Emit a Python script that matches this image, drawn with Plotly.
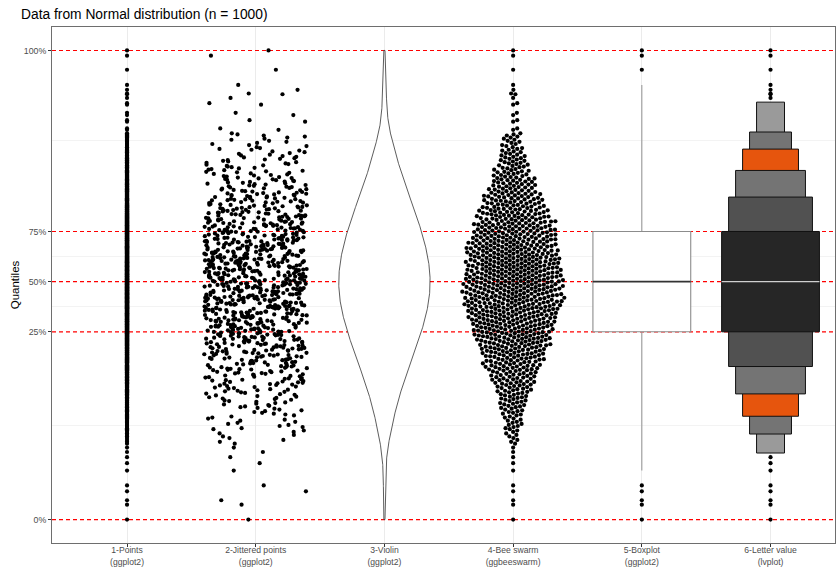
import numpy as np
import plotly.graph_objects as go

# ---- data -------------------------------------------------------------
categories = [
    "1-Points<br>(ggplot2)",
    "2-Jittered points<br>(ggplot2)",
    "3-Violin<br>(ggplot2)",
    "4-Bee swarm<br>(ggbeeswarm)",
    "5-Boxplot<br>(ggplot2)",
    "6-Letter value<br>(lvplot)",
]

# sample summarised as counts in 0.1-wide bins from -2.2 to 2.0
bin_start = -2.2
bin_width = 0.1
bin_counts = [4, 5, 7, 7, 9, 11, 12, 14, 17, 18, 22, 23, 26, 28, 31, 32, 34, 36, 38, 39, 39, 40,
              40, 39, 39, 37, 36, 34, 32, 31, 28, 26, 23, 22, 18, 17, 14, 12, 11, 9, 7, 7]
# individual values in the two tails
lower_tail = [-3.21, -3.01, -2.95, -2.83, -2.75, -2.55, -2.45, -2.37, -2.30, -2.24]
upper_tail = [2.04, 2.06, 2.15, 2.17, 2.24, 2.27, 2.38, 2.40, 2.47, 2.52, 2.53, 2.58,
              2.645, 2.85, 3.04, 3.11]

quantile_probs = [0.0, 0.25, 0.5, 0.75, 1.0]
quantile_labels = ["0%", "25%", "50%", "75%", "100%"]

# letter-value levels (tail probability of each level)
lv_probs = [1 / 4, 1 / 8, 1 / 16, 1 / 32, 1 / 64, 1 / 128]
lv_colors = ["#262626", "#515151", "#747474", "#E6550D", "#747474", "#9a9a9a"]

# ---- build the sample ---------------------------------------------------
body = []
for i, c in enumerate(bin_counts):
    lo = bin_start + i * bin_width
    body += [lo + (k + 0.5) * bin_width / c for k in range(c)]
values = np.sort(np.array(lower_tail + body + upper_tail))
n = len(values)

qs = np.quantile(values, quantile_probs)
vmin, q1, med, q3, vmax = qs
span = vmax - vmin
y_range = [vmin - 0.05 * span, vmax + 0.05 * span]
x_range = [0.417, 6.501]

# ---- geometry of the panel ----------------------------------------------
W, H = 836, 567
M = dict(l=52, r=1, t=27, b=24)
plot_w = W - M["l"] - M["r"]
plot_h = H - M["t"] - M["b"]
px_x = plot_w / (x_range[1] - x_range[0])
px_y = plot_h / (y_range[1] - y_range[0])

PT = 4.2  # point diameter in px


def hash01(i):
    """Deterministic scatter of an index onto [0, 1) (splitmix64 finaliser)."""
    m = (1 << 64) - 1
    z = (i * 0x9E3779B97F4A7C15 + 0x632BE59BD9B4E019) & m
    z = ((z ^ (z >> 30)) * 0xBF58476D1CE4E5B9) & m
    z = ((z ^ (z >> 27)) * 0x94D049BB133111EB) & m
    z ^= z >> 31
    return z / float(1 << 64)


fig = go.Figure()

# dashed reference lines at the quantiles (drawn first so every mark sits on top)
hx, hy = [], []
for yv in qs:
    hx += [x_range[0], x_range[1], None]
    hy += [yv, yv, None]
fig.add_trace(go.Scatter(x=hx, y=hy, mode="lines", hoverinfo="skip",
                         line=dict(color="#ff0000", width=1.15, dash="4px,3px")))

# 1 - points
fig.add_trace(go.Scatter(x=np.full(n, 1.0), y=values, mode="markers",
                         marker=dict(color="black", size=PT, line=dict(width=0)),
                         hoverinfo="skip"))

# 2 - jittered points (horizontal jitter of +-0.4)
u = np.array([hash01(i) for i in range(n)])
fig.add_trace(go.Scatter(x=2 + (u * 2 - 1) * 0.4, y=values, mode="markers",
                         marker=dict(color="black", size=PT, line=dict(width=0)),
                         hoverinfo="skip"))

# 3 - violin (gaussian KDE, nrd0 bandwidth, trimmed to data range)
sd = values.std(ddof=1)
bw = 0.9 * min(sd, (q3 - q1) / 1.34) * n ** -0.2
grid = np.linspace(vmin, vmax, 512)
dens = np.exp(-0.5 * ((grid[:, None] - values[None, :]) / bw) ** 2).sum(1) / (n * bw * np.sqrt(2 * np.pi))
half = dens / dens.max() * 0.355
vx = np.concatenate([3 + half, (3 - half)[::-1], [3 + half[0]]])
vy = np.concatenate([grid, grid[::-1], [grid[0]]])
fig.add_trace(go.Scatter(x=vx, y=vy, mode="lines", fill="toself", fillcolor="white",
                         line=dict(color="#333333", width=0.8), hoverinfo="skip"))


# 4 - bee swarm (points placed in ascending order, nearest free slot to centre)
def swarm(y_pix, d):
    xs = np.zeros(len(y_pix))
    py, pxs = [], []
    for i in np.argsort(y_pix, kind="stable"):
        y = y_pix[i]
        x = 0.0
        if py:
            ay = np.array(py[-80:])
            ax = np.array(pxs[-80:])
            dy = y - ay
            near = np.abs(dy) < d
            if near.any():
                ny, nx = dy[near], ax[near]
                h = np.sqrt(d * d - ny * ny)
                cand = np.concatenate([[0.0], nx + h, nx - h])
                ok = ((cand[:, None] - nx[None, :]) ** 2 + ny[None, :] ** 2) >= d * d - 1e-6
                valid = cand[ok.all(axis=1)]
                x = valid[np.argmin(np.abs(valid))]
        xs[i] = x
        py.append(y)
        pxs.append(x)
    return xs


sw = swarm(values * px_y, 4.35)
fig.add_trace(go.Scatter(x=4 + sw / px_x, y=values, mode="markers",
                         marker=dict(color="black", size=PT, line=dict(width=0)),
                         hoverinfo="skip"))

# 5 - box plot (Tukey whiskers at 1.5 IQR)
iqr = q3 - q1
lo_f, hi_f = q1 - 1.5 * iqr, q3 + 1.5 * iqr
w_lo = values[values >= lo_f].min()
w_hi = values[values <= hi_f].max()
out = values[(values < lo_f) | (values > hi_f)]
bh = 0.38
fig.add_trace(go.Scatter(x=[5, 5, None, 5, 5], y=[q3, w_hi, None, q1, w_lo], mode="lines",
                         line=dict(color="#9a9a9a", width=1.1), hoverinfo="skip"))
fig.add_trace(go.Scatter(x=[5 - bh, 5 + bh, 5 + bh, 5 - bh, 5 - bh], y=[q1, q1, q3, q3, q1],
                         mode="lines", fill="toself", fillcolor="white",
                         line=dict(color="#8c8c8c", width=1.1), hoverinfo="skip"))
fig.add_trace(go.Scatter(x=[5 - bh, 5 + bh], y=[med, med], mode="lines",
                         line=dict(color="#333333", width=1.6), hoverinfo="skip"))
fig.add_trace(go.Scatter(x=np.full(len(out), 5.0), y=out, mode="markers",
                         marker=dict(color="black", size=PT, line=dict(width=0)),
                         hoverinfo="skip"))

# 6 - letter-value plot
K = len(lv_probs)
for k in range(K - 1, -1, -1):
    p = lv_probs[k]
    lo, hi = np.quantile(values, [p, 1 - p])
    hw = bh * (1 - k / (K + 1))
    fig.add_trace(go.Scatter(x=[6 - hw, 6 + hw, 6 + hw, 6 - hw, 6 - hw], y=[lo, lo, hi, hi, lo],
                             mode="lines", fill="toself", fillcolor=lv_colors[k],
                             line=dict(color="#111111", width=1), hoverinfo="skip"))
fig.add_trace(go.Scatter(x=[6 - bh, 6 + bh], y=[med, med], mode="lines",
                         line=dict(color="#cfcfcf", width=1.2), hoverinfo="skip"))
lv_lo, lv_hi = np.quantile(values, [lv_probs[-1], 1 - lv_probs[-1]])
lv_out = values[(values < lv_lo) | (values > lv_hi)]
fig.add_trace(go.Scatter(x=np.full(len(lv_out), 6.0), y=lv_out, mode="markers",
                         marker=dict(color="black", size=PT, line=dict(width=0)),
                         hoverinfo="skip"))

minor_vals = list((qs[:-1] + qs[1:]) / 2)
font_family = "Liberation Sans, Arial, Helvetica, sans-serif"

fig.update_layout(
    width=W, height=H, margin=M,
    paper_bgcolor="white", plot_bgcolor="white",
    showlegend=False,
    font=dict(family=font_family, color="black"),
    title=dict(text="Data from Normal distribution (n = 1000)", x=21 / W, xref="container",
               xanchor="left", y=1 - 14 / H, yref="container", yanchor="middle",
               font=dict(size=13.8, color="black", family=font_family)),
)
fig.update_xaxes(
    range=x_range, tickmode="array", tickvals=list(range(1, 7)), ticktext=categories,
    showgrid=True, gridcolor="#ebebeb", gridwidth=1, zeroline=False, automargin=False,
    ticks="outside", ticklen=3, tickcolor="#333333", tickwidth=1, ticklabelstandoff=-4,
    tickfont=dict(size=8.6, color="#4d4d4d"),
    showline=True, mirror=True, linecolor="#6e6e6e", linewidth=1,
)
fig.update_yaxes(
    range=y_range, tickmode="array", tickvals=list(qs), ticktext=quantile_labels,
    showgrid=False, zeroline=False, automargin=False,
    minor=dict(tickmode="array", tickvals=minor_vals, showgrid=True, gridcolor="#f3f3f3",
               gridwidth=0.6, ticks=""),
    ticks="outside", ticklen=3, tickcolor="#333333", tickwidth=1,
    tickfont=dict(size=8.8, color="#4d4d4d"),
    showline=True, mirror=True, linecolor="#6e6e6e", linewidth=1,
    title=dict(text="Quantiles", font=dict(size=11.5, color="black"), standoff=1),
)

fig.write_html("out.html")
